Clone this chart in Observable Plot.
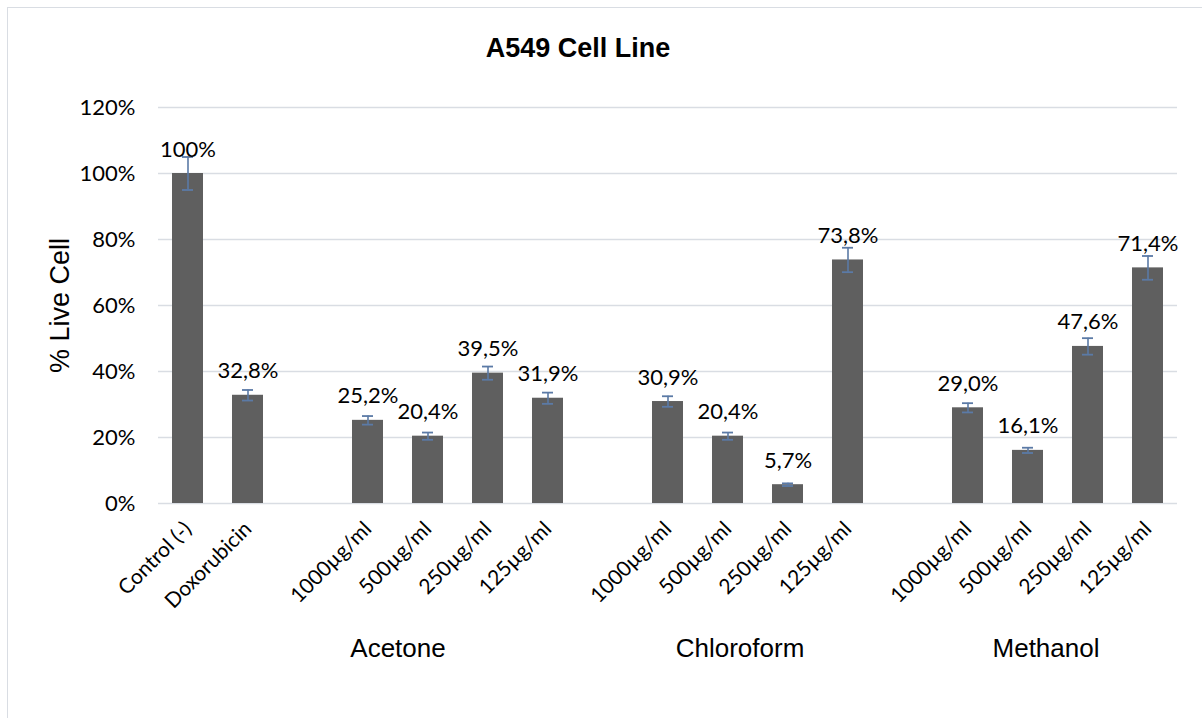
<!DOCTYPE html>
<html><head><meta charset="utf-8">
<script src="https://cdn.jsdelivr.net/npm/d3@7"></script>
<script src="https://cdn.jsdelivr.net/npm/@observablehq/plot@0.6"></script>
<style>
body{margin:0;background:#fff;}
#frame{position:absolute;left:7px;top:7px;width:1300px;height:800px;border:1px solid #d9dde3;box-sizing:border-box;}
#chart{position:absolute;left:0;top:0;}
#title{position:absolute;left:0;width:1156px;top:33px;text-align:center;font:bold 27px "Liberation Sans",Arial,sans-serif;color:#000;}
</style></head><body>
<div id="frame"></div>
<div id="chart"></div>
<div id="title">A549 Cell Line</div>
<script>
const labels = ["Control (-)","Doxorubicin",
  "1000µg/ml","500µg/ml","250µg/ml","125µg/ml",
  "1000µg/ml","500µg/ml","250µg/ml","125µg/ml",
  "1000µg/ml","500µg/ml","250µg/ml","125µg/ml"];
const groups = ["","",
  "Acetone","Acetone","Acetone","Acetone",
  "Chloroform","Chloroform","Chloroform","Chloroform",
  "Methanol","Methanol","Methanol","Methanol"];
const values = [100,32.8, 25.2,20.4,39.5,31.9, 30.9,20.4,5.7,73.8, 29.0,16.1,47.6,71.4];
const errors = [5.0,1.6, 1.3,1.1,2.0,1.7, 1.6,1.1,0.4,3.7, 1.4,0.8,2.5,3.6];
const groupNames = ["Acetone","Chloroform","Methanol"];
const yTicks = [0,20,40,60,80,100,120];

const rows = labels.map((label,i)=>({key: groups[i]+"|"+label, label, group: groups[i], value: values[i], err: errors[i]}));
const domain = [];
rows.forEach((r,i)=>{ if (i>0 && r.group !== rows[i-1].group) domain.push("gap"+i); domain.push(r.key); });
const labelOf = new Map(rows.map(r=>[r.key,r.label]));
const fmt = v => (v >= 100 ? String(v) : v.toFixed(1).replace(".",",")) + "%";

const errColor = "#5b7aa6";
const arial = "'Liberation Sans', Arial, sans-serif";
const groupDx = {Acetone:-30, Chloroform:12, Methanol:18};

const chart = Plot.plot({
  width:1202, height:718,
  marginTop:107, marginBottom:215, marginLeft:158, marginRight:25,
  style:{fontFamily:"Lato, sans-serif", fontSize:"22px", color:"#000", background:"transparent"},
  x:{domain, paddingInner:0.483, paddingOuter:0.233, label:null},
  y:{domain:[0,120], label:null},
  marks:[
    Plot.gridY(yTicks, {stroke:"#d9dde3", strokeOpacity:1, strokeWidth:1.3}),
    Plot.barY(rows, {x:"key", y:"value", fill:"#5f5f5f"}),
    Plot.ruleX(rows, {x:"key", y1:d=>d.value-d.err, y2:d=>d.value+d.err, stroke:errColor, strokeWidth:1.6}),
    Plot.tickY(rows, {x:"key", y:d=>d.value+d.err, stroke:errColor, strokeWidth:1.8, insetLeft:10, insetRight:10}),
    Plot.tickY(rows, {x:"key", y:d=>d.value-d.err, stroke:errColor, strokeWidth:1.8, insetLeft:10, insetRight:10}),
    Plot.text(rows, {x:"key", y:"value", text:d=>fmt(d.value), lineAnchor:"bottom", dy:-17, fontSize:22, fill:"#000"}),
    Plot.axisY(yTicks, {tickFormat:d=>d+"%", tickSize:0, tickPadding:23, label:null, fontSize:22}),
    Plot.axisX({tickFormat:k=>labelOf.get(k) ?? "", tickRotate:-45, tickSize:0, tickPadding:22, label:null, fontSize:21}),
    Plot.text(["% Live Cell"], {frameAnchor:"left", textAnchor:"middle", dx:-98, rotate:-90, fontSize:27, fontFamily:arial, fill:"#000"}),
    ...groupNames.map(g => Plot.text([g], {
      x: d => rows.filter(r=>r.group===d)[1].key,
      frameAnchor:"bottom", dy:153, dx:groupDx[g], fontSize:26, fontFamily:arial, fill:"#000"}))
  ]
});
document.getElementById("chart").appendChild(chart);
</script>
</body></html>
